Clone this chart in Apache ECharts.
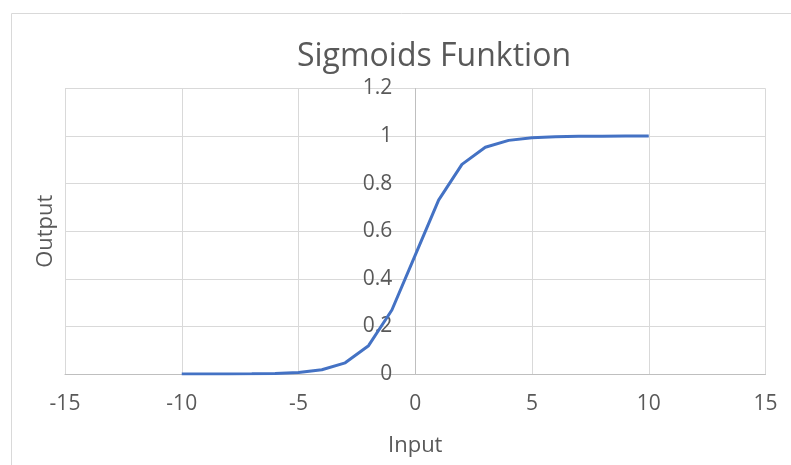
<!DOCTYPE html>
<html>
<head>
<meta charset="utf-8">
<script src="https://cdn.jsdelivr.net/npm/echarts@6/dist/echarts.min.js"></script>
<style>
  html, body { margin: 0; padding: 0; background: #fff; }
  #chart { width: 791px; height: 465px; }
</style>
</head>
<body>
<div id="chart"></div>
<script>
// Input values (x) and sigmoid output
const inputs = [-10, -9, -8, -7, -6, -5, -4, -3, -2, -1, 0, 1, 2, 3, 4, 5, 6, 7, 8, 9, 10];
const outputs = [0.00005, 0.0001, 0.0003, 0.0009, 0.0025, 0.0067, 0.018, 0.047, 0.119, 0.269, 0.5,
  0.731, 0.881, 0.953, 0.982, 0.993, 0.9975, 0.999, 0.9997, 0.9999, 1.0];

const titleText = 'Sigmoids Funktion';
const xName = 'Input';
const yName = 'Output';

const font = '"Open Sans", sans-serif';
const textColor = '#595959';

const chart = echarts.init(document.getElementById('chart'));

// plot width 700.5 -> x=0 sits half way across, so the value axis is pushed in by that much
const plotW = 791 - 65 - 25.5;

chart.setOption({
  animation: false,
  title: {
    text: titleText,
    left: 429,
    textAlign: 'center',
    top: 36,
    textStyle: { fontFamily: font, fontSize: 32, fontWeight: 'normal', color: textColor }
  },
  grid: { left: 65, right: 25.5, top: 88.5, bottom: 91, containLabel: false },
  graphic: [{
    type: 'rect',
    shape: { x: 11.5, y: 13.5, width: 800, height: 500 },
    style: { fill: 'none', stroke: '#d9d9d9', lineWidth: 1 },
    silent: true
  }],
  xAxis: {
    type: 'value',
    min: -15,
    max: 15,
    interval: 5,
    name: xName,
    nameLocation: 'middle',
    nameGap: 61,
    nameTextStyle: { fontFamily: font, fontSize: 22, color: textColor },
    axisLine: { onZero: true, lineStyle: { color: '#bfbfbf', width: 1 } },
    axisTick: { show: false },
    axisLabel: { margin: 20, fontFamily: font, fontSize: 21, color: textColor },
    splitLine: { lineStyle: { color: '#d9d9d9', width: 1 } }
  },
  yAxis: [{
    type: 'value',
    position: 'left',
    offset: -plotW / 2,
    min: 0,
    max: 1.2,
    interval: 0.2,
    axisLine: { show: true, onZero: false, lineStyle: { color: '#bfbfbf', width: 1 } },
    axisTick: { show: false },
    axisLabel: { margin: 23, fontFamily: font, fontSize: 21, color: textColor },
    splitLine: { lineStyle: { color: '#d9d9d9', width: 1 } }
  }, {
    type: 'value',
    position: 'left',
    min: 0,
    max: 1.2,
    interval: 0.2,
    name: yName,
    nameLocation: 'middle',
    nameGap: 8,
    nameTextStyle: { fontFamily: font, fontSize: 22, color: textColor },
    axisLine: { show: false, onZero: false },
    axisTick: { show: false },
    axisLabel: { show: false },
    splitLine: { show: false }
  }],
  series: [{
    type: 'line',
    data: inputs.map((x, i) => [x, outputs[i]]),
    smooth: false,
    showSymbol: false,
    lineStyle: { color: '#4472C4', width: 3 },
    itemStyle: { color: '#4472C4' }
  }]
});
</script>
</body>
</html>
